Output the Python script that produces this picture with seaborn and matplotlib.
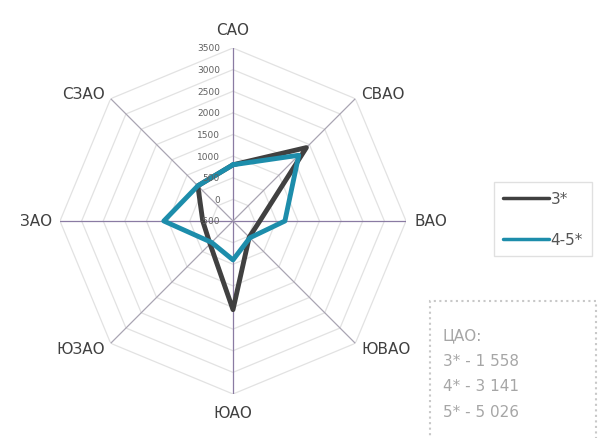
import numpy as np
import pandas as pd
import matplotlib
matplotlib.use('Agg')
import matplotlib.pyplot as plt
import matplotlib.transforms as mtransforms
from matplotlib.lines import Line2D
from matplotlib.patches import Rectangle
import seaborn as sns

# hotels per district
districts = ['САО', 'СВАО', 'ВАО', 'ЮВАО', 'ЮАО', 'ЮЗАО', 'ЗАО', 'СЗАО']
hotels_3 = [800, 1900, 120, 30, 1550, 250, 200, 650]
hotels_45 = [800, 1650, 700, 50, 400, 200, 1100, 650]
series_names = ['3*', '4-5*']
series_colors = ['#404040', '#1d8dab']
r_ticks = [-500, 0, 500, 1000, 1500, 2000, 2500, 3000, 3500]
cao_notes = ['ЦАО:', '3* - 1 558', '4* - 3 141', '5* - 5 026']

sns.set_theme(style='white')
plt.rcParams['font.family'] = ['DejaVu Sans']

theta = np.linspace(0, 2 * np.pi, len(districts), endpoint=False)

# long table, each polygon closed by repeating the first point
rows = []
for name, vals in zip(series_names, [hotels_3, hotels_45]):
    for t, v in zip(list(theta) + [2 * np.pi], vals + vals[:1]):
        rows.append({'theta': t, 'value': v, 'series': name})
df = pd.DataFrame(rows)

W, H = 598, 439
fig = plt.figure(figsize=(W / 100, H / 100), dpi=100)
ax = fig.add_axes([60 / W, 44 / H, 346 / W, 346 / H], projection='polar')
ax.set_theta_offset(np.pi / 2)
ax.set_theta_direction(-1)
ax.set_ylim(r_ticks[0], r_ticks[-1])
ax.grid(False)
ax.spines['polar'].set_visible(False)
ax.set_xticks([])
ax.set_yticks([])
ax.set_facecolor('none')

# octagon grid
closed = list(theta) + [theta[0]]
for r in r_ticks[1:]:
    ax.plot(closed, [r] * len(closed), color='#e2e2e2', lw=0.9, zorder=1)

# spokes
for i, t in enumerate(theta):
    col = '#8a7ba3' if i % 2 == 0 else '#aaa5b3'
    ax.plot([t, t], [r_ticks[0], r_ticks[-1]], color=col, lw=0.9, zorder=2)

sns.lineplot(data=df, x='theta', y='value', hue='series', hue_order=series_names,
             palette=series_colors, sort=False, estimator=None, linewidth=3.5,
             legend=False, ax=ax, zorder=3)
for ln in ax.lines[-2:]:
    ln.set_solid_joinstyle('round')
ax.set_xlabel('')
ax.set_ylabel('')

# radial value labels along the top spoke
trans = mtransforms.offset_copy(ax.transData, fig=fig, x=-13, y=0, units='dots')
for r in r_ticks:
    ax.text(0, r, str(r), transform=trans, ha='right', va='center',
            fontsize=6.5, color='#606060', zorder=4)

# district labels
for t, name in zip(theta, districts):
    dx, dy = np.sin(t), np.cos(t)
    ha = 'center' if abs(dx) < 0.1 else ('left' if dx > 0 else 'right')
    if abs(dx) < 0.1:
        va = 'bottom' if dy > 0 else 'top'
        off = 11
    else:
        va = 'center'
        off = 8
    tr = mtransforms.offset_copy(ax.transData, fig=fig, x=dx * off, y=dy * off, units='dots')
    ax.text(t, r_ticks[-1], name, transform=tr, ha=ha, va=va,
            fontsize=11, color='#404040')

handles = [Line2D([0], [0], color=c, lw=2.5) for c in series_colors]
leg = fig.legend(handles, series_names, loc='upper left',
                 bbox_to_anchor=(494 / W, 1 - 183 / H), frameon=True,
                 fancybox=False, edgecolor='#d9d9d9', fontsize=11,
                 handlelength=3.0, handletextpad=0.1, labelspacing=1.7,
                 borderpad=0.6, borderaxespad=0)
for txt in leg.get_texts():
    txt.set_color('#555555')

# note box for the central district
fig.add_artist(Rectangle((430 / W, -0.01), (W - 2 - 430) / W, (H - 302) / H + 0.01,
                         transform=fig.transFigure, fill=False, ls=':',
                         edgecolor='#c8c8c8', lw=1.5))
for k, line in enumerate(cao_notes):
    fig.text(443 / W, 1 - (336 + 25.5 * k) / H, line, ha='left', va='center',
             fontsize=11, color='#a6a6a6')

fig.savefig('out.png', dpi=100)
